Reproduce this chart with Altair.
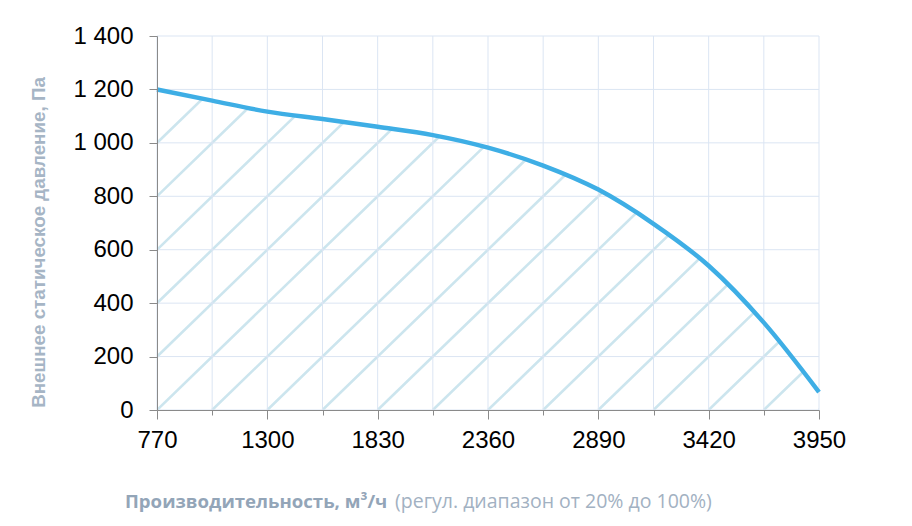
import altair as alt
import pandas as pd

# ---- data ----
flow = [770, 1035, 1300, 1565, 1830, 2095, 2360, 2625, 2890, 3155, 3420, 3685, 3950]
pressure = [1200, 1158, 1117, 1089, 1060, 1029, 982, 915, 825, 697, 540, 327, 67]

x_ticks = [770, 1035, 1300, 1565, 1830, 2095, 2360, 2625, 2890, 3155, 3420, 3685, 3950]
y_ticks = [0, 200, 400, 600, 800, 1000, 1200, 1400]

x_title_bold = "Производительность, м³/ч"
x_title_regular = "(регул. диапазон от 20% до 100%)"
y_title = "Внешнее статическое давление, Па"

X_MIN, X_MAX = x_ticks[0], x_ticks[-1]
Y_MIN, Y_MAX = y_ticks[0], y_ticks[-1]
STEP_X = x_ticks[1] - x_ticks[0]

curve = pd.DataFrame({"q": flow, "p": pressure})

# hatch lines: diagonals of the grid cells
n_rows = len(y_ticks) - 1
hatch_rows = []
for k in range(-n_rows, len(x_ticks)):
    x0 = X_MIN + STEP_X * k
    hatch_rows.append({"x0": x0, "y0": Y_MIN, "x1": x0 + STEP_X * n_rows, "y1": Y_MAX})
hatch = pd.DataFrame(hatch_rows)

W, H = 662, 374

xs = alt.Scale(domain=[X_MIN, X_MAX], nice=False, zero=False)
ys = alt.Scale(domain=[Y_MIN, Y_MAX], nice=False)

GRID = "#dbe5f3"
AX = "#8a8a8a"
TICK_FONT = "Liberation Sans Narrow, Liberation Sans, Arial"

x_axis = alt.Axis(
    values=x_ticks,
    title=None,
    grid=False,
    domainColor=AX,
    tickColor=AX,
    tickSize={"condition": {"test": f"(datum.value - {X_MIN}) % {2*STEP_X} == 0", "value": 9}, "value": 5},
    labelExpr=f"(datum.value - {X_MIN}) % {2*STEP_X} == 0 ? format(datum.value, 'd') : ''",
    labelFont=TICK_FONT,
    labelFontSize=24,
    labelColor="#000000",
    labelPadding=9,
    labelFlush=False,
    labelOverlap=False,
    zindex=1,
)
y_axis = alt.Axis(
    values=y_ticks,
    title=y_title,
    grid=False,
    domainColor=AX,
    tickColor=AX,
    tickSize=8,
    labelExpr="replace(format(datum.value, ','), ',', ' ')",
    labelFont=TICK_FONT,
    labelFontSize=24,
    labelColor="#000000",
    labelPadding=16,
    labelFlush=False,
    titleFont="Liberation Sans, Arial",
    titleFontSize=18.8,
    titleFontWeight="bold",
    titleColor="#a6b5c5",
    titleAngle=-90,
    titleX=-113,
    titleY=206,
    titleAlign="center",
    titleBaseline="alphabetic",
    zindex=1,
)

hatch_layer = alt.Chart(hatch).mark_rule(clip=True, color="#cce5ee", strokeWidth=2.6).encode(
    x=alt.X("x0:Q", scale=xs, axis=x_axis),
    y=alt.Y("y0:Q", scale=ys, axis=y_axis),
    x2="x1:Q",
    y2="y1:Q",
)

mask = alt.Chart(curve).mark_area(color="white", interpolate="monotone", opacity=1).encode(
    x="q:Q",
    y="p:Q",
    y2=alt.datum(Y_MAX),
)

vgrid = alt.Chart(pd.DataFrame({"v": x_ticks})).mark_rule(color=GRID, strokeWidth=1).encode(
    x="v:Q"
)
hgrid = alt.Chart(pd.DataFrame({"v": y_ticks})).mark_rule(color=GRID, strokeWidth=1).encode(
    y="v:Q"
)

line = alt.Chart(curve).mark_line(color="#3eaee5", strokeWidth=4.5, interpolate="monotone").encode(
    x="q:Q",
    y="p:Q",
)

t_bold = alt.Chart(pd.DataFrame({"t": [x_title_bold]})).mark_text(
    align="left", baseline="alphabetic", font="Open Sans", fontSize=18.6, fontWeight="bold", color="#93a5b8"
).encode(x=alt.value(-32), y=alt.value(472), text="t:N")

t_reg = alt.Chart(pd.DataFrame({"t": [x_title_regular]})).mark_text(
    align="left", baseline="alphabetic", font="Open Sans", fontSize=19.5, color="#a2b1c2"
).encode(x=alt.value(238), y=alt.value(472), text="t:N")

chart = alt.layer(hatch_layer, mask, vgrid, hgrid, line, t_bold, t_reg).properties(
    width=W,
    height=H,
    autosize=alt.AutoSizeParams(type="none"),
    padding={"left": 149, "top": 28, "right": 85, "bottom": 108},
    background="white",
).configure_view(stroke=None)

chart.save("out.html", embed_options={"renderer": "svg", "actions": False})
